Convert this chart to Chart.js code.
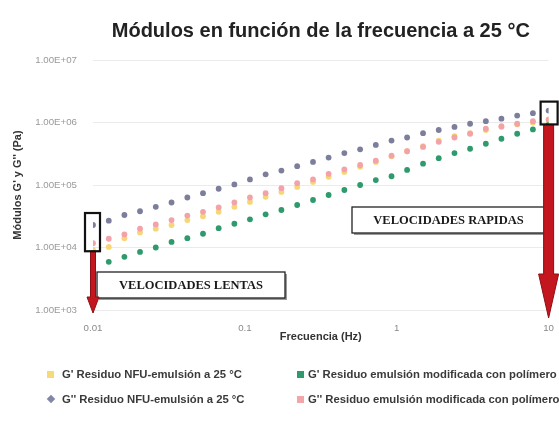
<!DOCTYPE html>
<html>
<head>
<meta charset="utf-8">
<script src="https://cdn.jsdelivr.net/npm/chart.js@4/dist/chart.umd.min.js"></script>
<style>
  body { margin: 0; background: #fff; }
  #wrap { position: relative; width: 559px; height: 423px; overflow: hidden; }
  .lg { position: absolute; font: bold 11.3px "Liberation Sans", Arial, sans-serif; color: #3a3a3a; white-space: nowrap; }
  .mk { position: absolute; width: 7px; height: 7px; }
</style>
</head>
<body>
<div id="wrap">
  <canvas id="chart" width="559" height="423"></canvas>
  <div class="mk" style="left:47px;top:371px;background:#f6da78"></div>
  <div class="lg" style="left:62px;top:368px">G' Residuo NFU-emulsión a 25 °C</div>
  <div class="mk" style="left:48px;top:396px;width:6px;height:6px;background:#8486a6;transform:rotate(45deg)"></div>
  <div class="lg" style="left:62px;top:393px">G'' Residuo NFU-emulsión a 25 °C</div>
  <div class="mk" style="left:297px;top:371px;background:#2f9a6c"></div>
  <div class="lg" style="left:308px;top:368px">G' Residuo emulsión modificada con polímero</div>
  <div class="mk" style="left:297px;top:396px;background:#f3a6aa"></div>
  <div class="lg" style="left:308px;top:393px">G'' Residuo emulsión modificada con polímero</div>
</div>
<script>
"use strict";

// frecuencia (Hz)
const freq = [0.01, 0.0127, 0.0161, 0.0204, 0.0259, 0.0329, 0.0418, 0.053, 0.0672, 0.0853,
  0.108, 0.137, 0.174, 0.221, 0.281, 0.356, 0.452, 0.574, 0.728, 0.924,
  1.17, 1.49, 1.89, 2.4, 3.04, 3.86, 4.89, 6.21, 7.88, 10];

// G' residuo NFU-emulsión (Pa)
const gp1NFU = [9120, 10200, 14100, 17400, 20000, 22900, 27500, 31600, 37200, 44700,
  53700, 64600, 77600, 93300, 112000, 135000, 162000, 195000, 234000, 288000,
  347000, 417000, 513000, 603000, 676000, 759000, 851000, 933000, 1000000, 1070000];
// G'' residuo NFU-emulsión (Pa)
const gpp1NFU = [22900, 26900, 33100, 38000, 44700, 52500, 63100, 74100, 87100, 102000,
  123000, 148000, 170000, 200000, 234000, 275000, 324000, 372000, 437000, 513000,
  575000, 676000, 759000, 851000, 955000, 1050000, 1150000, 1290000, 1410000, 1550000];
// G' residuo emulsión modificada con polímero (Pa)
const gpMod = [5010, 5890, 7080, 8510, 10000, 12300, 14100, 16600, 20400, 24000,
  28200, 33900, 39800, 47900, 57500, 69200, 83200, 100000, 120000, 138000,
  174000, 219000, 269000, 324000, 380000, 457000, 550000, 661000, 776000, 912000];
// G'' residuo emulsión modificada con polímero (Pa)
const gppMod = [11700, 13800, 16200, 20000, 23400, 27500, 32400, 37200, 43700, 52500,
  63100, 74100, 89100, 107000, 123000, 151000, 178000, 209000, 245000, 295000,
  347000, 407000, 490000, 575000, 661000, 794000, 871000, 955000, 1050000, 1120000];

const xTicks = [0.01, 0.1, 1, 10];
const xTickLabels = ["0.01", "0.1", "1", "10"];
const yTicks = [1e3, 1e4, 1e5, 1e6, 1e7];
const yTickLabels = ["1.00E+03", "1.00E+04", "1.00E+05", "1.00E+06", "1.00E+07"];

const pts = (vals) => freq.map((f, i) => ({ x: f, y: vals[i] }));
const dot = (color, order) => ({
  showLine: false, pointRadius: 2.9, pointHoverRadius: 3, borderWidth: 0,
  backgroundColor: color, borderColor: color, order,
});

const tickFont = { family: "Liberation Sans, Arial, sans-serif", size: 9.7 };
const titleFont = { family: "Liberation Sans, Arial, sans-serif", size: 11, weight: "bold" };

function arrow(ctx, x, y0, y1, shaft, headW, headL) {
  ctx.save();
  ctx.fillStyle = "#c3161e";
  ctx.strokeStyle = "#8e0f14";
  ctx.lineWidth = 1;
  ctx.beginPath();
  ctx.moveTo(x - shaft / 2, y0);
  ctx.lineTo(x + shaft / 2, y0);
  ctx.lineTo(x + shaft / 2, y1 - headL);
  ctx.lineTo(x + headW / 2, y1 - headL);
  ctx.lineTo(x, y1);
  ctx.lineTo(x - headW / 2, y1 - headL);
  ctx.lineTo(x - shaft / 2, y1 - headL);
  ctx.closePath();
  ctx.fill();
  ctx.stroke();
  ctx.restore();
}

function labelBox(ctx, x0, y0, x1, y1, text) {
  ctx.save();
  ctx.fillStyle = "#9a9a9a";
  ctx.fillRect(x0 + 2, y0 + 2, x1 - x0, y1 - y0);
  ctx.fillStyle = "#fff";
  ctx.fillRect(x0, y0, x1 - x0, y1 - y0);
  ctx.strokeStyle = "#222";
  ctx.lineWidth = 1.3;
  ctx.strokeRect(x0, y0, x1 - x0, y1 - y0);
  ctx.fillStyle = "#1a1a1a";
  ctx.font = "bold 12.5px 'Liberation Serif', 'DejaVu Serif', serif";
  ctx.textAlign = "center";
  ctx.textBaseline = "middle";
  ctx.fillText(text, (x0 + x1) / 2, (y0 + y1) / 2 + 1);
  ctx.restore();
}

const notes = {
  id: "notes",
  afterDatasetsDraw(chart) {
    const { ctx, scales: { x, y } } = chart;
    const n = freq.length - 1;
    const xl = x.getPixelForValue(freq[0]);
    const xr = x.getPixelForValue(freq[n]);
    const lTop = y.getPixelForValue(gpp1NFU[0]) - 12;
    const lBot = y.getPixelForValue(gppMod[0]) + 8;
    const rTop = y.getPixelForValue(gpp1NFU[n]) - 9;
    const rBot = y.getPixelForValue(gppMod[n]) + 5;

    labelBox(ctx, 97, 272, 285, 298, "VELOCIDADES LENTAS");
    labelBox(ctx, 352, 207, 545, 233, "VELOCIDADES RAPIDAS");

    arrow(ctx, xl, lBot, 313, 5, 12, 16);
    arrow(ctx, xr, rBot, 318, 10, 20, 44);

    ctx.save();
    ctx.strokeStyle = "#111";
    ctx.lineWidth = 2.2;
    ctx.strokeRect(xl - 8, lTop, 15, lBot - lTop);
    ctx.strokeRect(xr - 8, rTop, 17, rBot - rTop);
    ctx.restore();
  },
};

new Chart(document.getElementById("chart"), {
  type: "scatter",
  data: {
    datasets: [
      { label: "G' Residuo NFU-emulsión a 25 °C", data: pts(gp1NFU), ...dot("#f6d676", 3) },
      { label: "G'' Residuo NFU-emulsión a 25 °C", data: pts(gpp1NFU), ...dot("#7c7e9c", 1) },
      { label: "G' Residuo emulsión modificada con polímero", data: pts(gpMod), ...dot("#2f9a6c", 1) },
      { label: "G'' Residuo emulsión modificada con polímero", data: pts(gppMod), ...dot("#f2a2a8", 2) },
    ],
  },
  options: {
    responsive: false,
    animation: false,
    layout: { padding: { left: 0, right: 10, top: 0, bottom: 73 } },
    scales: {
      x: {
        type: "logarithmic", min: 0.01, max: 10,
        afterBuildTicks: (s) => { s.ticks = xTicks.map((v) => ({ value: v })); },
        afterFit: (s) => { s.height = 40; },
        ticks: { callback: (v, i) => xTickLabels[i], color: "#8a8a8a", font: tickFont, padding: 5, maxRotation: 0, autoSkip: false },
        grid: { display: false },
        border: { display: false },
        title: { display: true, text: "Frecuencia (Hz)", color: "#333", font: titleFont, padding: { top: 0, bottom: 6 } },
      },
      y: {
        type: "logarithmic", min: 1e3, max: 1e7,
        afterBuildTicks: (s) => { s.ticks = yTicks.map((v) => ({ value: v })); },
        afterFit: (s) => { s.width = 93; },
        ticks: { callback: (v, i) => yTickLabels[i], color: "#999", font: tickFont, padding: 16, autoSkip: false },
        grid: { color: "#ebebeb", drawTicks: false },
        border: { display: false },
        title: { display: true, text: "Módulos G' y G'' (Pa)", color: "#333", font: titleFont, padding: { top: 11, bottom: 0 } },
      },
    },
    plugins: {
      legend: { display: false },
      tooltip: { enabled: false },
      title: {
        display: true, fullSize: false,
        text: "Módulos en función de la frecuencia a 25 °C",
        color: "#222",
        font: { family: "Liberation Sans, Arial, sans-serif", size: 20, weight: "bold" },
        padding: { top: 19, bottom: 17 },
      },
    },
  },
  plugins: [notes],
});
</script>
</body>
</html>
